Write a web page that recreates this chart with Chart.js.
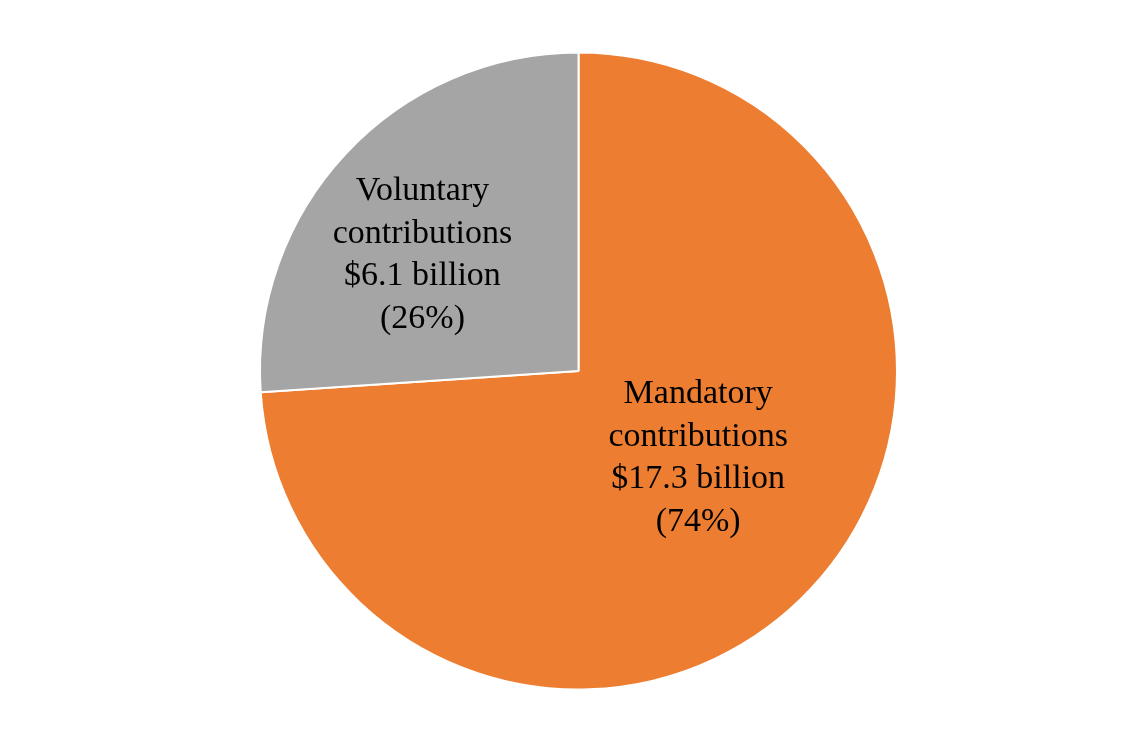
<!DOCTYPE html>
<html>
<head>
<meta charset="utf-8">
<script src="https://cdn.jsdelivr.net/npm/chart.js@4.4.0/dist/chart.umd.min.js"></script>
<style>
  html, body { margin: 0; padding: 0; background: #fff; }
  #wrap { width: 1133px; height: 733px; position: relative; }
</style>
</head>
<body>
<div id="wrap"><canvas id="myChart"></canvas></div>
<script>
// chart data
const categories = ["Mandatory contributions", "Voluntary contributions"];
const amounts = [17.3, 6.1]; // $ billion
const shares = ["74%", "26%"];
const colors = ["#ED7D31", "#A5A5A5"];

// label text lines, one list per slice
const labelLines = categories.map((c, i) => {
  const words = c.split(" ");
  return [words[0], words[1], "$" + amounts[i] + " billion", "(" + shares[i] + ")"];
});

// where each label sits inside its slice (fraction of radius, angle nudge in degrees)
const labelSpots = [
  { r: 0.465, nudge: -7 },
  { r: 0.61, nudge: -6.5 },
];

const sliceLabels = {
  id: "sliceLabels",
  afterDatasetsDraw(chart) {
    const ctx = chart.ctx;
    const meta = chart.getDatasetMeta(0);
    ctx.save();
    ctx.font = "34px 'Liberation Serif', 'Times New Roman', serif";
    ctx.fillStyle = "#000";
    ctx.textAlign = "center";
    ctx.textBaseline = "middle";
    const lineH = 42.5;
    meta.data.forEach((arc, i) => {
      const p = arc.getProps(["x", "y", "startAngle", "endAngle", "outerRadius"], true);
      const mid = (p.startAngle + p.endAngle) / 2 + labelSpots[i].nudge * Math.PI / 180;
      const d = p.outerRadius * labelSpots[i].r;
      const cx = p.x + Math.cos(mid) * d;
      const cy = p.y + Math.sin(mid) * d;
      const lines = labelLines[i];
      const top = cy - (lines.length - 1) * lineH / 2;
      lines.forEach((t, j) => ctx.fillText(t, cx, top + j * lineH));
    });
    ctx.restore();
  },
};

new Chart("myChart", {
  type: "pie",
  data: {
    labels: categories,
    datasets: [
      {
        data: amounts,
        backgroundColor: colors,
        borderColor: "#ffffff",
        borderWidth: 2,
      },
    ],
  },
  options: {
    responsive: true,
    maintainAspectRatio: false,
    animation: false,
    layout: { padding: { left: 259, right: 235, top: 51, bottom: 42 } },
    plugins: {
      legend: { display: false },
      tooltip: { enabled: false },
    },
  },
  plugins: [sliceLabels],
});
</script>
</body>
</html>
